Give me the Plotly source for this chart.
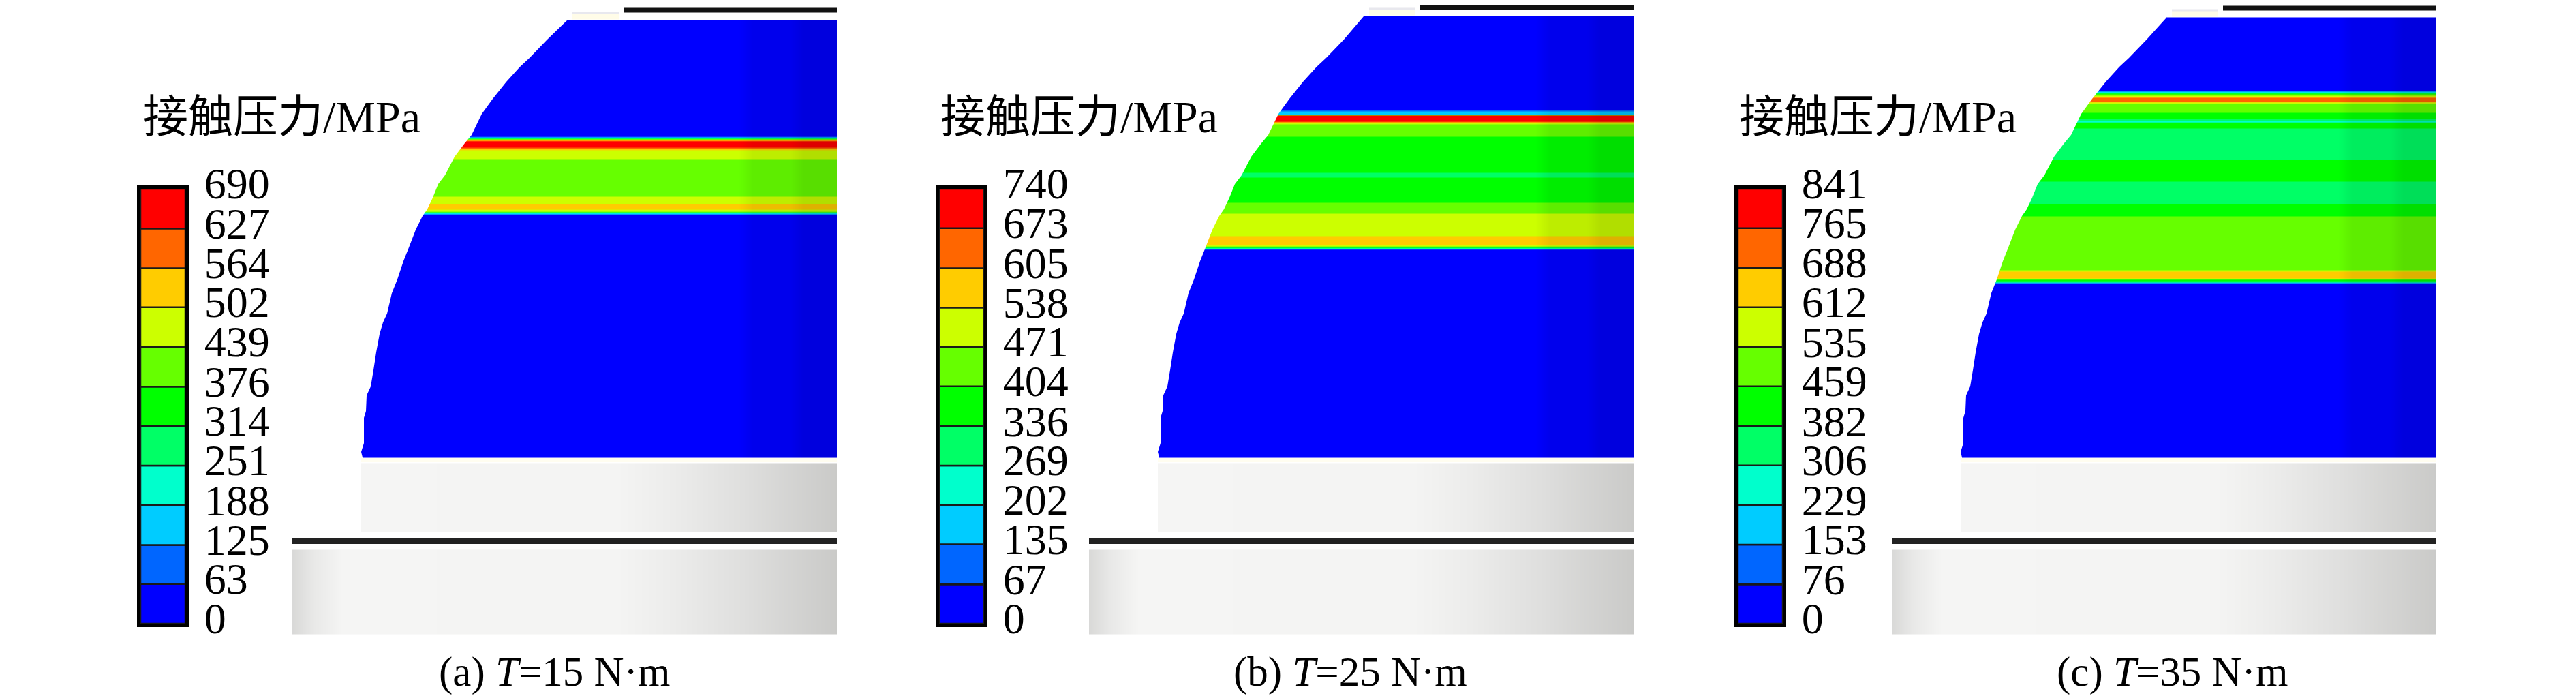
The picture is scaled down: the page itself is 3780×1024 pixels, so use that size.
import plotly.graph_objects as go

FIG_W = 3780
FIG_H = 1024
PAGE_MARGIN = 8  # the browser keeps this much around the plot div

captions = ['(a) <i>T</i>=15 N·m', '(b) <i>T</i>=25 N·m', '(c) <i>T</i>=35 N·m']
legend_title = '接触压力/MPa'

# scale labels, top value last
levels_a = [0, 63, 125, 188, 251, 314, 376, 439, 502, 564, 627, 690]
levels_b = [0, 67, 135, 202, 269, 336, 404, 471, 538, 605, 673, 740]
levels_c = [0, 76, 153, 229, 306, 382, 459, 535, 612, 688, 765, 841]

band_colors = ['#0000ff', '#0066ff', '#00ccff', '#00ffcc', '#00ff66', '#00ff00',
               '#66ff00', '#ccff00', '#ffcc00', '#ff6600', '#ff0000']

# pressure read down the contact face: height in image px, pressure in MPa
height_a = [30, 31, 199, 202, 204, 207, 215, 218, 221, 230, 234, 286, 289, 297, 300, 306, 309, 312, 315, 670, 671]
press_a = [30, 30, 30, 250, 480, 660, 660, 540, 470, 470, 410, 410, 470, 470, 530, 530, 440, 250, 30, 30, 30]

height_b = [24, 25, 160, 163, 167, 169, 177, 180, 184, 199, 201, 252, 254, 258, 260, 296, 298, 311, 313, 344, 346, 357, 360, 363, 366, 670, 671]
press_b = [30, 30, 30, 180, 200, 680, 680, 500, 430, 430, 370, 370, 300, 300, 370, 370, 440, 440, 500, 500, 570, 570, 480, 300, 30, 30, 30]

height_c = [26, 27, 132, 135, 138, 141, 143, 148, 151, 154, 163, 165, 172, 178, 180, 187, 189, 232, 234, 265, 267, 297, 299, 315, 318, 395, 398, 407, 410, 413, 416, 670, 671]
press_c = [30, 30, 30, 300, 500, 580, 720, 720, 540, 500, 500, 420, 420, 280, 420, 420, 340, 340, 420, 420, 340, 340, 420, 420, 500, 500, 650, 650, 450, 320, 30, 30, 30]

# dome outline, px from the left end of the lower block / image height
dome_x = [403, 374, 348, 334, 314, 294, 278, 263, 253, 238, 224, 214, 206, 198, 191, 181, 171, 163, 154,
          146, 139, 133, 128, 123, 119, 115, 109, 108, 105, 105, 101, 103]
dome_y = [30, 58, 85, 98, 120, 145, 167, 198, 210, 230, 257, 270, 290, 307, 317, 337, 363, 383, 410,
          430, 460, 473, 490, 517, 543, 567, 580, 603, 613, 650, 663, 671]
dome_top = [30, 24, 26]

# darker facets towards the right side of the dome
shade_x = [100, 655, 675, 730, 750, 800]
shade_a = [0, 0, 0.07, 0.07, 0.13, 0.13]

# grey levels of the two blocks below the dome
gray_x = [0, 1, 30, 73, 480, 560, 660, 726, 798, 799]
gray_v = [226, 226, 238, 248, 247, 241, 231, 222, 213, 213]

# figure layout in px
panel_left = [429, 1598, 2776]
panel_w = 799
bar_left = [206, 1378, 2550]
bar_w = 66
bar_top = 277
bar_bottom = 915
title_left = [208, 1378, 2550]
caption_x = [813, 1981, 3187]
line_y_top = [15, 11, 12]

panels = [(levels_a, height_a, press_a), (levels_b, height_b, press_b), (levels_c, height_c, press_c)]


def px_x(v):
    return (v - PAGE_MARGIN) / (FIG_W - 2 * PAGE_MARGIN)


def px_y(v):
    return 1 - (v - PAGE_MARGIN) / (FIG_H - PAGE_MARGIN)


colorscale = []
for i, c in enumerate(band_colors):
    colorscale += [[i / 11, c], [(i + 1) / 11, c]]

fig = go.Figure()
layout = {}
for p, (levels, height, press) in enumerate(panels):
    ax = 2 * p + 1
    bx = 2 * p + 2
    xa = f'x{ax}'
    ya = f'y{ax}'
    xb = f'x{bx}'
    yb = f'y{bx}'
    top = dome_top[p]

    # contact face
    fig.add_trace(go.Heatmap(x=[0, panel_w], y=height, z=[[v, v] for v in press],
                             zmin=0, zmax=levels[-1], colorscale=colorscale, zsmooth='best',
                             showscale=False, xaxis=xa, yaxis=ya))
    fig.add_trace(go.Heatmap(x=shade_x, y=[height[0], height[1], 670, 671], z=[shade_a] * 4,
                             zmin=0, zmax=1, colorscale=[[0, 'rgba(0,0,0,0)'], [1, 'rgba(0,0,0,1)']],
                             zsmooth='best', showscale=False, xaxis=xa, yaxis=ya))
    # white cut outside the dome
    out_y = [top] + dome_y[1:]
    fig.add_trace(go.Scatter(x=[-5, dome_x[0]] + dome_x + [dome_x[-1], -5],
                             y=[top - 4, top - 4] + out_y + [674, 674],
                             mode='none', fill='toself', fillcolor='white',
                             showlegend=False, xaxis=xa, yaxis=ya))
    # pale stub on top of the dome
    fig.add_trace(go.Scatter(x=[411, 479], y=[top - 6, top - 6], mode='lines',
                             line=dict(color='#fffce8', width=9), showlegend=False, xaxis=xa, yaxis=ya))
    fig.add_trace(go.Scatter(x=[411, 479], y=[top - 11, top - 11], mode='lines',
                             line=dict(color='#e8e8ee', width=3), showlegend=False, xaxis=xa, yaxis=ya))
    # blocks under the dome
    fig.add_trace(go.Heatmap(x=gray_x, y=[680, 681, 779, 780], z=[gray_v] * 4, zmin=0, zmax=255,
                             colorscale='gray', zsmooth='best', showscale=False, xaxis=xa, yaxis=ya))
    fig.add_trace(go.Scatter(x=[-5, 101, 101, -5], y=[672, 672, 785, 785], mode='none',
                             fill='toself', fillcolor='white', showlegend=False, xaxis=xa, yaxis=ya))
    fig.add_trace(go.Scatter(x=[101, panel_w], y=[675, 675], mode='lines',
                             line=dict(color='#fffdf0', width=6), showlegend=False, xaxis=xa, yaxis=ya))
    fig.add_trace(go.Heatmap(x=gray_x, y=[807, 808, 929, 930], z=[gray_v] * 4, zmin=0, zmax=255,
                             colorscale='gray', zsmooth='best', showscale=False, xaxis=xa, yaxis=ya))
    fig.add_trace(go.Scatter(x=[0, panel_w], y=[794, 794], mode='lines',
                             line=dict(color='#222222', width=8), showlegend=False, xaxis=xa, yaxis=ya))
    fig.add_trace(go.Scatter(x=[486, panel_w], y=[line_y_top[p], line_y_top[p]], mode='lines',
                             line=dict(color='#111111', width=7), showlegend=False, xaxis=xa, yaxis=ya))

    left = panel_left[p]
    layout[f'xaxis{ax}'] = dict(domain=[px_x(left), px_x(left + panel_w)], range=[0, panel_w],
                                visible=False, anchor=ya, automargin=False)
    layout[f'yaxis{ax}'] = dict(domain=[0, 1], range=[FIG_H, PAGE_MARGIN], visible=False,
                                anchor=xa, automargin=False)

    # pressure scale
    fig.add_trace(go.Bar(x=[0] * 11, base=levels[:-1],
                         y=[levels[i + 1] - levels[i] for i in range(11)],
                         width=1, marker=dict(color=band_colors, line=dict(color='#1a1a1a', width=2.5)),
                         showlegend=False, xaxis=xb, yaxis=yb))
    left = bar_left[p]
    layout[f'xaxis{bx}'] = dict(domain=[px_x(left), px_x(left + bar_w)], range=[-0.5, 0.5],
                                showticklabels=False, ticks='', showgrid=False, zeroline=False, automargin=False,
                                showline=True, mirror=True, linecolor='black', linewidth=5, anchor=yb)
    layout[f'yaxis{bx}'] = dict(domain=[px_y(bar_bottom), px_y(bar_top)],
                                range=[0, levels[-1]], side='right', anchor=xb, automargin=False,
                                tickvals=levels, ticktext=[str(v) for v in levels],
                                tickfont=dict(size=64, color='black'), ticks='', showgrid=False,
                                zeroline=False, showline=True, mirror=True, linecolor='black', linewidth=5,
                                ticklabelstandoff=10, ticklabelshift=-8)

annotations = []
for p in range(3):
    annotations.append(dict(text=legend_title, x=px_x(title_left[p]), y=px_y(172),
                            xref='paper', yref='paper', xanchor='left', yanchor='middle',
                            showarrow=False, font=dict(size=66, color='black')))
    annotations.append(dict(text=captions[p], x=px_x(caption_x[p]), y=px_y(986),
                            xref='paper', yref='paper', xanchor='center', yanchor='middle',
                            showarrow=False, font=dict(size=61, color='black')))

fig.update_layout(width=FIG_W - 2 * PAGE_MARGIN, height=FIG_H - PAGE_MARGIN,
                  margin=dict(l=0, r=0, t=0, b=0),
                  paper_bgcolor='white', plot_bgcolor='white', showlegend=False,
                  barmode='overlay', annotations=annotations,
                  font=dict(family='Liberation Serif, Noto Sans CJK SC'), **layout)

fig.write_html("out.html")
